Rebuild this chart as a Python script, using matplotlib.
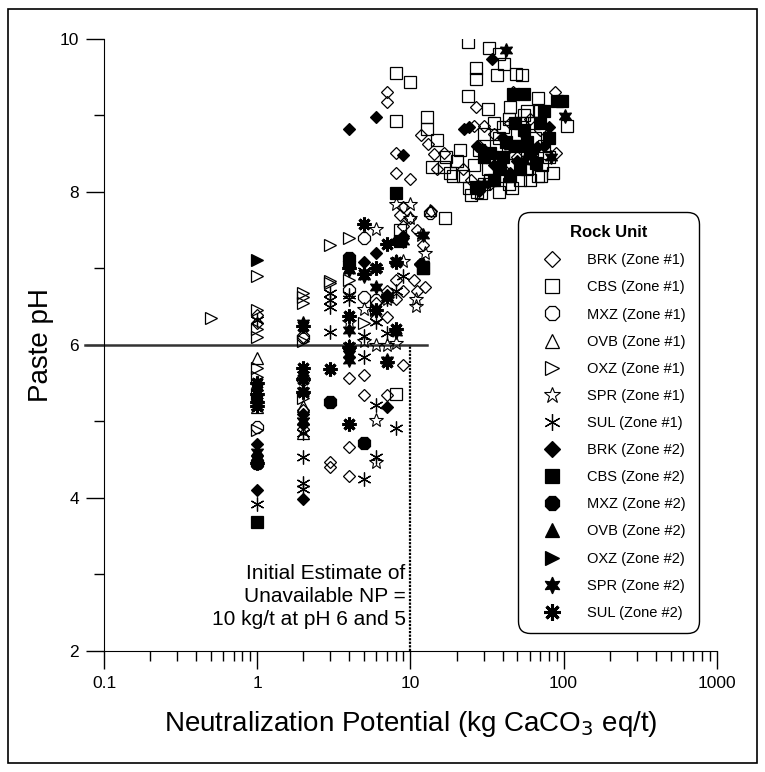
import matplotlib
matplotlib.use("Agg")
import matplotlib.pyplot as plt
from matplotlib.lines import Line2D
from matplotlib.patches import Rectangle

plt.rcParams['font.family'] = ['Liberation Sans', 'DejaVu Sans']

# (NP kg CaCO3/t, paste pH)
brk1 = [(1, 6.39), (1, 6.28), (1, 5.5), (2, 6.1), (2, 5.55), (2, 5.15), (2, 4.9),
        (3, 4.47), (3, 4.40), (4, 5.57), (4, 4.66), (4, 4.29), (5, 5.60), (5, 5.34),
        (6, 6.55), (6, 6.35), (7, 5.34), (7, 6.36), (7, 6.7), (8, 6.6), (8, 6.85),
        (9, 5.74), (9, 6.7), (9, 7.55), (9, 7.8), (10.5, 6.84), (11, 6.7), (11.5, 7.05),
        (12, 7.3), (10, 7.65), (11, 7.5), (12.5, 6.75), (7, 9.30), (7, 9.17), (8, 8.51),
        (8, 8.25), (10, 8.16), (8.5, 7.7), (11.7, 8.74), (13, 8.62), (14.3, 8.49),
        (13.7, 7.75), (15, 8.3), (16.6, 8.51), (22, 8.3), (25, 8.15), (26, 8.86),
        (26.6, 9.11), (28, 8.6), (30, 8.86), (33, 8.1), (35, 8.75), (40, 8.3), (45, 8.9),
        (46.4, 9.30), (50, 8.45), (55, 8.6), (60, 8.95), (70, 8.8), (88, 9.30), (89, 8.50)]
cbs1 = [(8, 5.36), (8.5, 7.5), (8, 9.55), (9.9, 9.43), (8, 8.92), (12.9, 8.97), (12.9, 8.82),
        (15, 8.68), (16.8, 7.66), (13.9, 8.32), (16.6, 8.32), (18, 8.25), (12, 7.0),
        (23.6, 9.96), (32.4, 9.88), (38, 9.80), (40.9, 9.67), (26.6, 9.62), (26.6, 9.47),
        (36.5, 9.52), (49.2, 9.54), (53.9, 9.52), (23.6, 9.25), (67.6, 9.22), (106, 8.86),
        (31.9, 9.08), (20, 8.4), (22, 8.2), (24, 8.05), (25, 7.95), (27, 8.0), (29, 7.98),
        (30, 8.1), (32, 8.3), (34, 8.45), (36, 8.6), (38, 8.7), (40, 8.85), (42, 8.2),
        (44, 8.1), (46, 8.35), (48, 8.5), (50, 8.75), (52, 8.9), (55, 9.0), (58, 8.3),
        (60, 8.15), (62, 8.55), (65, 8.7), (68, 8.2), (72, 8.35), (75, 8.6), (80, 8.45),
        (58, 9.05), (45, 9.1), (35, 8.9), (30, 8.75), (28, 8.55), (26, 8.35), (33, 8.15),
        (38, 8.0), (46, 8.05), (52, 8.15), (64, 8.9), (70, 9.05), (85, 8.25), (71, 8.2),
        (19, 8.2), (17, 8.45), (21, 8.55), (44, 8.95)]
mxz1 = [(1, 4.92), (2, 6.1), (2, 5.55), (4, 6.72), (5, 7.4), (5, 6.62), (6, 6.58), (13.5, 7.72)]
ovb1 = [(1, 5.82), (1, 5.18), (2, 5.2), (13.5, 7.76), (2, 4.85)]
oxz1 = [(0.5, 6.35), (1, 6.90), (1, 6.45), (1, 6.21), (1, 6.1), (1, 5.69), (1, 5.58),
        (1, 4.88), (1, 5.35), (2, 6.68), (2, 6.62), (2, 6.55), (2, 6.05), (2, 5.3),
        (3, 7.30), (3, 6.83), (3, 6.8), (4, 7.40), (4, 6.85), (5, 6.28), (6, 6.45)]
spr1 = [(6, 7.51), (6, 5.01), (6, 4.47), (8, 7.84), (9.9, 7.84), (7, 6.0), (8, 6.02),
        (5, 6.47), (11.8, 7.43), (12.5, 7.2), (10.8, 6.6), (10.8, 6.5), (6, 6.0), (7, 6.6),
        (10, 7.65), (9, 7.1), (5, 6.05), (4, 6.3)]
sul1 = [(1, 6.32), (1, 5.3), (1, 3.92), (2, 5.6), (2, 5.0), (2, 4.85), (2, 4.53), (2, 4.19),
        (2, 4.12), (3, 6.67), (3, 6.58), (3, 6.49), (3, 6.16), (4, 6.65), (4, 6.6), (4, 5.98),
        (5, 5.84), (5, 6.11), (5, 4.25), (5, 6.96), (6, 5.21), (6, 4.53), (6, 6.3), (6, 7.0),
        (7, 6.15), (8, 4.91), (8, 6.7), (7, 6.6), (9, 6.9), (1, 5.2)]
brk2 = [(1, 4.10), (1, 4.7), (2, 3.99), (2, 4.97), (2, 5.1), (4, 8.82), (6, 8.97), (9, 8.48),
        (7, 5.19), (5, 7.08), (6, 7.20), (8, 7.35), (9, 7.42), (11.5, 7.05), (4, 7.0),
        (7, 6.65), (22.4, 8.82), (34.1, 9.73), (67, 8.58), (28, 8.01), (24, 8.85), (30, 8.55),
        (40, 8.7), (50, 8.4), (55, 8.75), (75, 8.6), (80, 8.85), (45, 8.25), (35, 8.35),
        (27, 8.6), (62, 8.5)]
cbs2 = [(1, 3.68), (8, 7.98), (8.5, 7.36), (12, 7.0), (26.8, 8.06), (55, 9.28), (91, 9.19),
        (97.7, 9.19), (65.7, 8.38), (30, 8.45), (38, 8.3), (45, 8.2), (50, 8.6), (55, 8.8),
        (60, 8.5), (70, 8.9), (42, 8.65), (48, 8.9), (35, 8.15), (52, 8.3), (75, 9.05),
        (80, 8.7), (47, 9.28), (40, 8.45), (58, 8.65), (33, 8.5)]
mxz2 = [(1, 4.45), (3, 5.25), (4, 7.13), (5, 4.71), (4, 7.05)]
ovb2 = []
oxz2 = [(1, 7.11)]
spr2 = [(1, 5.45), (1, 5.3), (1, 4.6), (2, 6.28), (2, 5.4), (2, 5.0), (4, 6.98), (4, 6.19),
        (4, 5.80), (4, 5.88), (5, 6.90), (6, 6.75), (7, 6.62), (7, 5.8), (8, 6.16), (9, 7.35),
        (12, 7.43), (42, 9.85), (102, 8.99), (82.6, 8.45), (12, 7.05), (45, 8.6), (55, 8.4),
        (30, 8.1), (8, 7.1), (1, 4.5)]
sul2 = [(1, 5.5), (1, 5.35), (1, 5.2), (1, 4.45), (2, 5.7), (2, 5.38), (2, 6.25), (3, 5.68),
        (4, 6.38), (4, 5.97), (4, 4.97), (4, 7.0), (5, 7.58), (5, 6.92), (6, 7.0), (7, 7.32),
        (7, 5.78), (8, 7.08), (8, 6.2), (6, 6.45), (1, 5.25), (2, 5.55)]

series = [
    ("BRK (Zone #1)", brk1, 'D', False, 6.5, 0.9),
    ("CBS (Zone #1)", cbs1, 's', False, 8.5, 0.9),
    ("MXZ (Zone #1)", mxz1, '8', False, 9, 0.9),
    ("OVB (Zone #1)", ovb1, '^', False, 8.5, 0.9),
    ("OXZ (Zone #1)", oxz1, '>', False, 8, 0.9),
    ("SPR (Zone #1)", spr1, '*', False, 10, 0.8),
    ("SUL (Zone #1)", sul1, (6, 2, 0), False, 10, 0.9),
    ("BRK (Zone #2)", brk2, 'D', True, 6.5, 0.9),
    ("CBS (Zone #2)", cbs2, 's', True, 8.5, 0.9),
    ("MXZ (Zone #2)", mxz2, '8', True, 9.5, 0.9),
    ("OVB (Zone #2)", ovb2, '^', True, 8.5, 0.9),
    ("OXZ (Zone #2)", oxz2, '>', True, 8, 0.9),
    ("SPR (Zone #2)", spr2, (6, 1, 0), True, 10, 0.9),
    ("SUL (Zone #2)", sul2, (8, 2, 0), True, 10, 2.2),
]

fig = plt.figure(figsize=(7.65, 7.72), dpi=100)
ax = fig.add_axes([0.136, 0.157, 0.801, 0.793])

handles = []
for label, pts, mk, filled, ms, mew in series:
    xs = [p[0] for p in pts]
    ys = [p[1] for p in pts]
    fc = 'black' if filled else 'none'
    ax.plot(xs, ys, linestyle='none', marker=mk, ms=ms, mfc=fc, mec='black', mew=mew, zorder=3)
    handles.append(Line2D([], [], linestyle='none', marker=mk, ms=ms * 1.2,
                          mfc='black' if filled else 'white', mec='black', mew=mew, label=label))

ax.set_xscale('log')
ax.set_xlim(0.1, 1000)
ax.set_ylim(2, 10)
ax.set_xticks([0.1, 1, 10, 100, 1000])
ax.set_xticklabels(['0.1', '1', '10', '100', '1000'])
ax.set_yticks([2, 4, 6, 8, 10])
ax.set_yticks([3, 5, 7, 9], minor=True)
ax.spines['top'].set_visible(False)
ax.spines['right'].set_visible(False)
ax.tick_params(which='major', direction='out', length=13, width=1, labelsize=12.5, pad=5)
ax.tick_params(which='minor', direction='out', length=7, width=1)

ax.set_ylabel('Paste pH', fontsize=20, labelpad=4)
ax.set_xlabel('Neutralization Potential (kg CaCO$_3$ eq/t)', fontsize=20, labelpad=13)

# unavailable NP guide lines
ax.plot([0.075, 12.8], [6, 6], color='#333333', lw=1.8, clip_on=False, zorder=2)
ax.plot([10, 10], [2, 6], color='black', lw=1.6, linestyle=(0, (1, 0.6)), zorder=2)
ax.text(9.3, 2.28, 'Initial Estimate of\nUnavailable NP =\n10 kg/t at pH 6 and 5',
        ha='right', va='bottom', fontsize=15, linespacing=1.28)

leg = ax.legend(handles=handles, title='Rock Unit', loc='upper left',
                bbox_to_anchor=(518 / 765, 1 - 212 / 772), bbox_transform=fig.transFigure,
                borderaxespad=0, fontsize=10.5, labelspacing=0.9, handlelength=2.8,
                handletextpad=1.03, borderpad=0.9, frameon=True, fancybox=True, framealpha=1,
                title_fontproperties={'weight': 'bold', 'size': 12})
leg.get_frame().set_edgecolor('black')
leg.get_frame().set_linewidth(1)
leg.get_frame().set_boxstyle('round,pad=0,rounding_size=0.8')

fig.patches.append(Rectangle((8 / 765, 1 - 763 / 772), 749 / 765, 754 / 772,
                             transform=fig.transFigure, fill=False, ec='black', lw=1.2))

fig.savefig('out.png', dpi=100)
